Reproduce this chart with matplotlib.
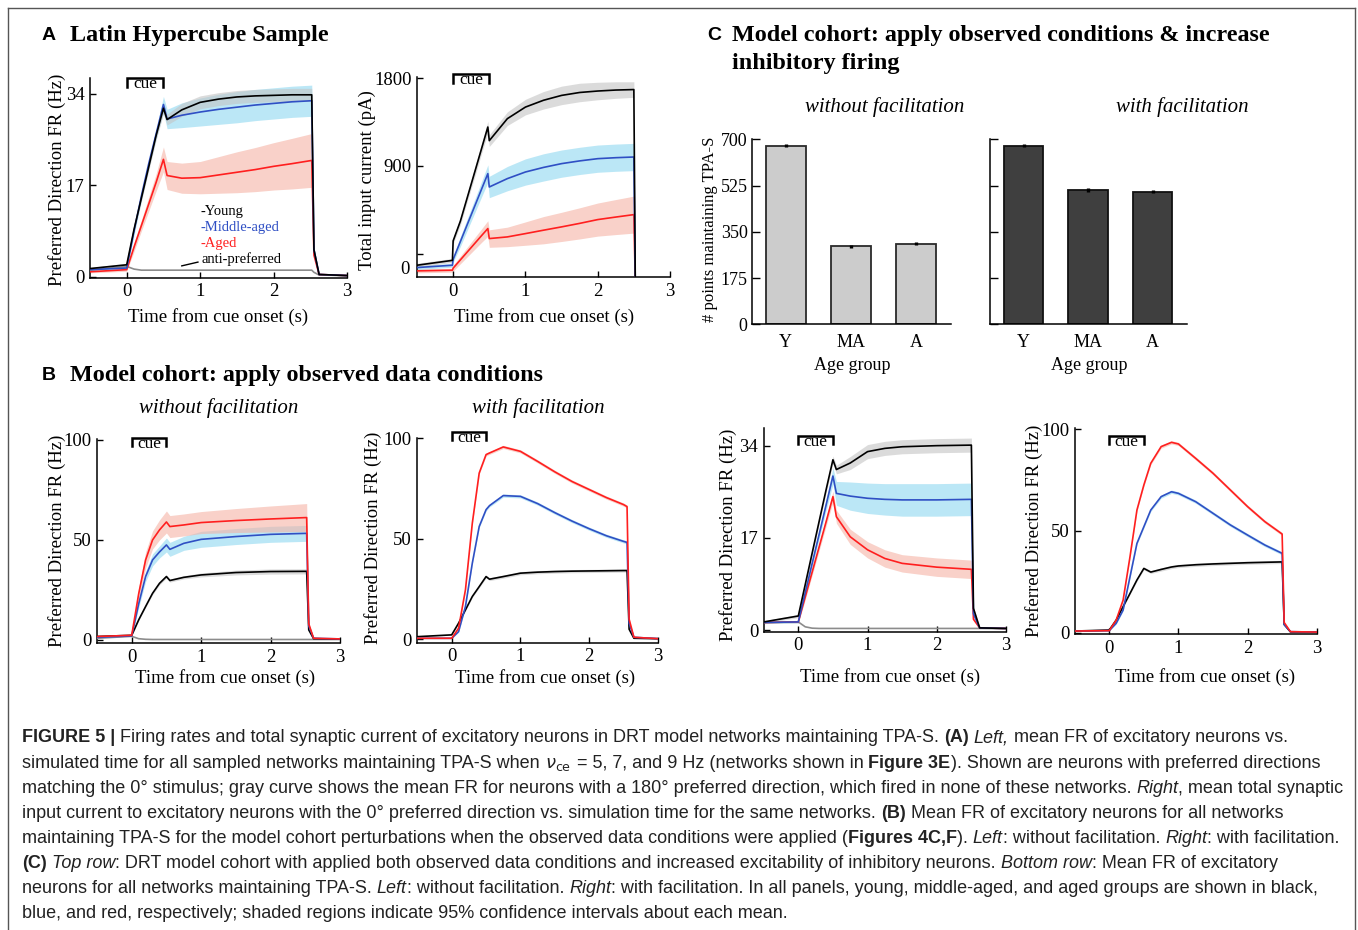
import numpy as np
import matplotlib
matplotlib.use('Agg')
import matplotlib.pyplot as plt
from matplotlib.lines import Line2D

W, H = 1358, 930
SERIF = ['Liberation Serif', 'DejaVu Serif']
SANS = ['Liberation Sans', 'DejaVu Sans']
CAP_FONT = ['Liberation Sans Narrow', 'Liberation Sans', 'DejaVu Sans']

# ------------------------------------------------------------------ data
CUE = [0.0, 0.5]
X_TICKS = [0, 1, 2, 3]
X_LIM = [-0.5, 3.0]

# Panel A left: preferred-direction firing rate (Hz)
tA = [-0.5, 0.0, 0.1, 0.2, 0.3, 0.4, 0.5, 0.55, 0.75, 1.0, 1.25, 1.5, 1.75, 2.0, 2.25, 2.52, 2.55, 2.62, 3.0]
A_young = [1.5, 2.2, 8.8, 14.6, 20.4, 26.2, 31.3, 29.2, 31.0, 32.4, 33.0, 33.4, 33.6, 33.7, 33.8, 33.8, 5.0, 0.4, 0.2]
A_young_ci = [0.2, 0.3, 0.5, 0.6, 0.7, 0.8, 1.0, 1.0, 1.2, 1.2, 1.2, 1.2, 1.2, 1.2, 1.2, 1.2, 0.4, 0.1, 0.1]
A_mid = [1.3, 1.6, 8.5, 15.0, 21.0, 26.5, 32.0, 29.3, 30.0, 30.6, 31.1, 31.5, 31.9, 32.2, 32.5, 32.7, 5.0, 0.4, 0.2]
A_mid_ci = [0.2, 0.3, 0.8, 0.8, 0.8, 0.9, 1.5, 1.8, 2.3, 2.6, 2.8, 2.9, 2.9, 2.9, 2.9, 2.9, 0.5, 0.1, 0.1]
A_aged = [0.9, 1.3, 5.5, 9.5, 13.5, 17.5, 21.8, 18.8, 18.3, 18.4, 18.9, 19.4, 19.9, 20.5, 21.0, 21.6, 4.0, 0.4, 0.2]
A_aged_ci = [0.2, 0.3, 0.8, 1.0, 1.3, 1.6, 2.3, 2.6, 2.8, 3.0, 3.4, 3.8, 4.1, 4.4, 4.7, 5.0, 0.5, 0.1, 0.1]
A_anti = [1.2, 1.9, 1.4, 1.2, 1.2, 1.2, 1.2, 1.2, 1.2, 1.2, 1.2, 1.2, 1.2, 1.2, 1.2, 1.2, 0.8, 0.3, 0.2]

# Panel A right: total input current (pA)
tAR = [-0.5, -0.01, 0.0, 0.1, 0.2, 0.3, 0.4, 0.48, 0.5, 0.75, 1.0, 1.25, 1.5, 1.75, 2.0, 2.25, 2.5, 2.52]
AR_young = [-120, -70, 130, 333, 587, 841, 1096, 1300, 1160, 1386, 1505, 1575, 1625, 1655, 1670, 1680, 1685, -300]
AR_young_ci = [20, 20, 30, 40, 40, 50, 50, 60, 60, 70, 80, 90, 95, 95, 90, 85, 80, 0]
AR_mid = [-144, -120, -60, 123, 307, 490, 674, 821, 684, 770, 838, 885, 924, 952, 975, 985, 992, -300]
AR_mid_ci = [20, 20, 30, 50, 60, 70, 80, 90, 110, 125, 135, 140, 140, 140, 140, 140, 140, 0]
AR_aged = [-178, -171, -150, -65, 20, 105, 190, 257, 154, 171, 205, 240, 274, 310, 349, 375, 400, -300]
AR_aged_ci = [20, 20, 30, 40, 50, 60, 70, 80, 90, 100, 120, 140, 150, 160, 170, 180, 190, 0]

# Panel B left: without facilitation (Hz)
tB = [-0.5, 0.0, 0.1, 0.2, 0.3, 0.4, 0.5, 0.55, 0.75, 1.0, 1.5, 2.0, 2.52, 2.55, 2.62, 3.0]
BL_young = [1.7, 2.3, 10.0, 16.7, 23.3, 28.3, 31.7, 29.7, 31.3, 32.5, 33.7, 34.2, 34.3, 5.0, 0.6, 0.4]
BL_young_ci = [0.2, 0.2, 0.5, 0.5, 0.7, 0.8, 0.8, 0.8, 0.8, 1.0, 1.2, 1.3, 1.3, 0.3, 0.1, 0.1]
BL_mid = [1.3, 2.0, 18.0, 31.7, 40.0, 44.0, 47.5, 45.3, 48.3, 50.3, 51.7, 52.8, 53.3, 7.0, 0.8, 0.5]
BL_mid_ci = [0.2, 0.3, 2.0, 2.5, 3.0, 3.0, 3.5, 3.5, 3.5, 4.0, 4.0, 4.0, 4.0, 1.0, 0.2, 0.1]
BL_aged = [1.7, 2.3, 23.0, 40.0, 50.0, 55.0, 59.0, 56.7, 57.5, 58.7, 59.7, 60.5, 61.2, 8.0, 0.8, 0.5]
BL_aged_ci = [0.3, 0.4, 3.0, 4.0, 4.5, 5.0, 5.5, 5.5, 5.5, 5.5, 6.0, 6.5, 7.0, 1.0, 0.2, 0.1]
BL_anti = [0.8, 1.8, 0.6, 0.3, 0.2, 0.2, 0.2, 0.2, 0.2, 0.2, 0.2, 0.2, 0.2, 0.2, 0.2, 0.2]

# Panel B right: with facilitation (Hz)
tBR = [-0.5, 0.0, 0.1, 0.2, 0.3, 0.4, 0.5, 0.55, 0.75, 1.0, 1.25, 1.5, 1.75, 2.0, 2.25, 2.5, 2.55, 2.58, 2.65, 3.0]
BR_young = [1.3, 2.2, 8.0, 14.6, 21.3, 26.2, 31.2, 29.9, 31.2, 32.9, 33.4, 33.7, 33.9, 34.0, 34.1, 34.2, 34.2, 5.0, 0.5, 0.3]
BR_mid = [0.5, 0.5, 3.8, 16.3, 37.9, 56.1, 64.5, 66.5, 71.5, 71.1, 67.5, 63.0, 58.8, 55.0, 51.5, 48.7, 48.2, 8.0, 1.0, 0.3]
BR_aged = [0.5, 0.5, 5.5, 24.6, 57.8, 82.7, 91.9, 92.7, 95.7, 93.5, 88.5, 83.3, 78.5, 74.5, 70.5, 67.0, 66.0, 10.0, 1.0, 0.3]
BR_ci = [0.2, 0.2, 0.3, 0.4, 0.5, 0.6, 0.7, 0.7, 0.8, 0.8, 0.8, 0.8, 0.8, 0.8, 0.8, 0.8, 0.8, 0.2, 0.1, 0.1]

# Panel C top: # points maintaining TPA-S
AGE_GROUPS = ['Y', 'MA', 'A']
C_without = [676, 295, 305]
C_without_err = [7, 6, 6]
C_with = [676, 508, 502]
C_with_err = [7, 6, 6]
C_YTICKS = [0, 175, 350, 525, 700]

# Panel C bottom left: without facilitation (Hz)
tCL = [-0.5, 0.0, 0.1, 0.2, 0.3, 0.4, 0.5, 0.55, 0.75, 1.0, 1.25, 1.5, 2.0, 2.5, 2.53, 2.62, 3.0]
CL_young = [1.5, 2.6, 8.4, 14.2, 20.0, 25.8, 31.4, 29.6, 30.8, 32.9, 33.5, 33.8, 34.0, 34.1, 4.0, 0.4, 0.3]
CL_young_ci = [0.2, 0.3, 0.4, 0.5, 0.5, 0.6, 0.7, 0.8, 1.2, 1.3, 1.3, 1.3, 1.3, 1.3, 0.3, 0.1, 0.1]
CL_mid = [1.4, 1.5, 6.9, 12.3, 17.6, 23.0, 28.4, 25.2, 24.7, 24.3, 24.1, 24.0, 24.0, 24.1, 3.0, 0.4, 0.3]
CL_mid_ci = [0.2, 0.2, 0.5, 0.7, 0.8, 1.0, 1.5, 2.2, 2.6, 2.8, 2.9, 3.0, 3.0, 3.0, 0.4, 0.1, 0.1]
CL_aged = [1.4, 1.5, 6.1, 10.7, 15.3, 19.9, 24.6, 20.9, 17.2, 14.8, 13.2, 12.3, 11.6, 11.2, 2.0, 0.4, 0.3]
CL_aged_ci = [0.2, 0.2, 0.5, 0.6, 0.7, 0.8, 1.0, 1.2, 1.4, 1.5, 1.6, 1.6, 1.7, 1.7, 0.3, 0.1, 0.1]
CL_anti = [1.4, 1.5, 0.6, 0.35, 0.3, 0.3, 0.3, 0.3, 0.3, 0.3, 0.3, 0.3, 0.3, 0.3, 0.3, 0.3, 0.3]

# Panel C bottom right: with facilitation (Hz)
tCR = [-0.5, 0.0, 0.1, 0.2, 0.3, 0.4, 0.5, 0.6, 0.75, 0.9, 1.0, 1.25, 1.5, 1.75, 2.0, 2.25, 2.5, 2.53, 2.62, 3.0]
CR_young = [0.8, 1.3, 6.2, 12.8, 19.3, 25.9, 31.6, 29.8, 31.1, 32.3, 32.8, 33.4, 33.8, 34.1, 34.4, 34.6, 34.8, 4.0, 0.4, 0.3]
CR_mid = [0.8, 1.0, 4.6, 11.1, 27.5, 43.9, 52.1, 60.3, 66.9, 69.3, 68.5, 64.4, 58.7, 53.0, 48.0, 43.1, 39.0, 4.0, 0.5, 0.3]
CR_aged = [0.8, 1.0, 6.2, 16.0, 37.4, 60.3, 72.6, 83.3, 91.5, 93.6, 92.8, 85.7, 78.4, 70.2, 62.0, 54.6, 48.5, 5.0, 0.5, 0.3]
CR_ci = [0.2, 0.2, 0.3, 0.4, 0.5, 0.6, 0.7, 0.7, 0.8, 0.8, 0.8, 0.8, 0.8, 0.8, 0.8, 0.8, 0.8, 0.2, 0.1, 0.1]

# ------------------------------------------------------------------ style
C_Y, C_MA, C_A, C_ANTI = '#000000', '#2f4fc4', '#ff1f1f', '#8c8c8c'
F_Y, F_MA, F_A = '#c4c4c4', '#8fd8f0', '#f5b3a5'
LAB_FS = 13.5

fig = plt.figure(figsize=(W / 100, H / 100), dpi=100)
renderer = fig.canvas.get_renderer()


def fx(px):
    return px / W


def fy(py):
    return 1 - py / H


def add_ax(x0, y0, x1, y1):
    return fig.add_axes([x0 / W, 1 - y1 / H, (x1 - x0) / W, (y1 - y0) / H])


def style_axes(ax, fs=LAB_FS):
    for s in ('top', 'right'):
        ax.spines[s].set_visible(False)
    for s in ('left', 'bottom'):
        ax.spines[s].set_linewidth(1.1)
    ax.tick_params(direction='in', length=4, width=1, labelsize=fs, pad=4)
    for lab in ax.get_xticklabels() + ax.get_yticklabels():
        lab.set_fontfamily(SERIF)


def line_panel(rect, t, series, ylim, yticks, yticklabels, bracket_top, tick_len=9):
    x0, y0, x1, y1 = rect
    ax = add_ax(x0, y0, x1, y1)
    t = np.asarray(t, float)
    for vals, ci, col, fcol in series:
        if ci is not None:
            v = np.asarray(vals, float)
            c = np.asarray(ci, float)
            ax.fill_between(t, v - c, v + c, color=fcol, alpha=0.6, lw=0, zorder=1)
    for vals, ci, col, fcol in series:
        ax.plot(t, vals, color=col, lw=1.2, zorder=3, solid_joinstyle='round')
    ax.set_xlim(X_LIM)
    ax.set_ylim(ylim)
    ax.set_xticks(X_TICKS)
    ax.set_yticks(yticks)
    ax.set_yticklabels(yticklabels)
    style_axes(ax)
    # cue bracket
    h = y1 - y0
    ftop = (y1 - bracket_top) / h
    fbot = (y1 - bracket_top - tick_len) / h
    tr = ax.get_xaxis_transform()
    ax.plot([CUE[0], CUE[0], CUE[1], CUE[1]], [fbot, ftop, ftop, fbot], color='black',
            lw=1.8, transform=tr, clip_on=False, zorder=5, solid_joinstyle='miter')
    fbase = (y1 - bracket_top - 10) / h
    ax.text(np.mean(CUE), fbase, 'cue', transform=tr, ha='center', va='baseline',
            fontsize=12.5, family=SERIF)
    return ax


def vlabel(x, y, s, fs=LAB_FS):
    fig.text(fx(x), fy(y), s, rotation=90, ha='center', va='center', fontsize=fs, family=SERIF)


def hlabel(x, y, s, fs=LAB_FS, style='normal'):
    fig.text(fx(x), fy(y), s, ha='center', va='center', fontsize=fs, family=SERIF, style=style)


# ------------------------------------------------------------------ Panel A
axA = line_panel((90, 77.6, 347, 277.7), tA,
                 [(A_anti, None, C_ANTI, None),
                  (A_aged, A_aged_ci, C_A, F_A),
                  (A_mid, A_mid_ci, C_MA, F_MA),
                  (A_young, A_young_ci, C_Y, F_Y)],
                 (-0.2, 37.0), [0, 17, 34], ['0', '17', '34'], 78)
for s, col, yv in (('-Young', C_Y, 12.2), ('-Middle-aged', C_MA, 9.2), ('-Aged', C_A, 6.25)):
    axA.text(1.0, yv, s, color=col, fontsize=10.5, family=SERIF, va='center', ha='left')
axA.text(1.02, 3.3, 'anti-preferred', color='black', fontsize=10.5, family=SERIF, va='center', ha='left')
axA.plot([0.75, 0.97], [2.0, 2.7], color='black', lw=1.0)
vlabel(57, 180, 'Preferred Direction FR (Hz)')
hlabel(218, 317, 'Time from cue onset (s)')

axAR = line_panel((417, 77.4, 670, 277.3), tAR,
                  [(AR_aged, AR_aged_ci, C_A, F_A),
                   (AR_mid, AR_mid_ci, C_MA, F_MA),
                   (AR_young, AR_young_ci, C_Y, F_Y)],
                  (-244, 1810), [0, 900, 1800], ['', '900', '1800'], 74)
fig.text(fx(410), fy(269), '0', ha='right', va='center', fontsize=LAB_FS, family=SERIF)
vlabel(367, 180, 'Total input current (pA)')
hlabel(544, 317, 'Time from cue onset (s)')

# ------------------------------------------------------------------ Panel B
line_panel((97, 439, 340, 643.3), tB,
           [(BL_anti, None, C_ANTI, None),
            (BL_young, BL_young_ci, C_Y, F_Y),
            (BL_mid, BL_mid_ci, C_MA, F_MA),
            (BL_aged, BL_aged_ci, C_A, F_A)],
           (-1.7, 100.5), [0, 50, 100], ['0', '50', '100'], 438, 8)
vlabel(57, 541, 'Preferred Direction FR (Hz)')
hlabel(225, 678, 'Time from cue onset (s)')
hlabel(219, 408, 'without facilitation', fs=15, style='italic')

line_panel((417.3, 438, 658, 642.7), tBR,
           [(BR_young, BR_ci, C_Y, F_Y),
            (BR_mid, BR_ci, C_MA, F_MA),
            (BR_aged, BR_ci, C_A, F_A)],
           (-1.7, 100.15), [0, 50, 100], ['0', '50', '100'], 432, 8)
vlabel(373, 538, 'Preferred Direction FR (Hz)')
hlabel(545, 678, 'Time from cue onset (s)')
hlabel(538, 408, 'with facilitation', fs=15, style='italic')

# ------------------------------------------------------------------ Panel C top (bars)
for (x0, x1), vals, errs, fc, ec, show in (((751.7, 950.7), C_without, C_without_err, '#cccccc', '#2a2a2a', True),
                                          ((990, 1187), C_with, C_with_err, '#3f3f3f', '#111111', False)):
    axb = add_ax(x0, 139.3, x1, 324.3)
    xs = np.arange(1, len(AGE_GROUPS) + 1)
    axb.bar(xs, vals, width=0.61, color=fc, edgecolor=ec, lw=1.3, zorder=2)
    axb.errorbar(xs, vals, yerr=errs, fmt='none', ecolor='black', elinewidth=2.4, capsize=0, zorder=3)
    axb.set_xlim(0.48, 3.53)
    axb.set_ylim(0, 700)
    axb.set_xticks(xs)
    axb.set_xticklabels(AGE_GROUPS)
    axb.set_yticks(C_YTICKS)
    style_axes(axb, 13)
    axb.tick_params(axis='x', length=0, pad=7)
    axb.tick_params(axis='y', length=6, pad=3)
    if not show:
        axb.set_yticklabels([])
    hlabel((x0 + x1) / 2 + 1, 366, 'Age group', fs=13)
vlabel(710, 229, '# points maintaining TPA-S', fs=12)
hlabel(885, 107, 'without facilitation', fs=15, style='italic')
hlabel(1182, 107, 'with facilitation', fs=15, style='italic')

# ------------------------------------------------------------------ Panel C bottom
line_panel((763.7, 428.3, 1006, 631.7), tCL,
           [(CL_anti, None, C_ANTI, None),
            (CL_aged, CL_aged_ci, C_A, F_A),
            (CL_mid, CL_mid_ci, C_MA, F_MA),
            (CL_young, CL_young_ci, C_Y, F_Y)],
           (-0.3, 37.2), [0, 17, 34], ['0', '17', '34'], 436, 8)
vlabel(728, 535, 'Preferred Direction FR (Hz)')
hlabel(890, 677, 'Time from cue onset (s)')

line_panel((1074.7, 428.3, 1316.7, 634), tCR,
           [(CR_young, CR_ci, C_Y, F_Y),
            (CR_mid, CR_ci, C_MA, F_MA),
            (CR_aged, CR_ci, C_A, F_A)],
           (-0.65, 100.5), [0, 50, 100], ['0', '50', '100'], 436, 8)
vlabel(1034, 531, 'Preferred Direction FR (Hz)')
hlabel(1205, 677, 'Time from cue onset (s)')

# ------------------------------------------------------------------ headings
def heading(letter, lx, tx, y, text, fs=17.4):
    fig.text(fx(lx), fy(y), letter, ha='left', va='center', fontsize=14, fontweight='bold', family=SANS)
    fig.text(fx(tx), fy(y), text, ha='left', va='center', fontsize=fs, fontweight='bold', family=SERIF)

heading('A', 42, 70, 36, 'Latin Hypercube Sample', 17.4)
heading('B', 42, 70, 375, 'Model cohort: apply observed data conditions', 17.4)
heading('C', 707, 732, 36, 'Model cohort: apply observed conditions & increase', 17.4)
fig.text(fx(732), fy(64), 'inhibitory firing', ha='left', va='center', fontsize=17.4,
         fontweight='bold', family=SERIF)

# ------------------------------------------------------------------ frame
for xs_, ys_ in (([8, 8], [930, 8]), ([8, 1355], [8, 8]), ([1355, 1355], [8, 930])):
    fig.add_artist(Line2D([fx(v) for v in xs_], [fy(v) for v in ys_], color='#555555', lw=1.0))

# ------------------------------------------------------------------ caption
NU = r'$\nu_{\rm ce}$'
CAPTION = [
    [('FIGURE 5 |', 'b'), (' Firing rates and total synaptic current of excitatory neurons in DRT model networks maintaining TPA-S. ', 'n'),
     ('(A)', 'b'), (' ', 'n'), ('Left,', 'i'), (' mean FR of excitatory neurons vs.', 'n')],
    [('simulated time for all sampled networks maintaining TPA-S when ', 'n'), (NU, 'n'),
     (' = 5, 7, and 9 Hz (networks shown in ', 'n'), ('Figure 3E', 'b'), ('). Shown are neurons with preferred directions', 'n')],
    [('matching the 0\u00b0 stimulus; gray curve shows the mean FR for neurons with a 180\u00b0 preferred direction, which fired in none of these networks. ', 'n'),
     ('Right', 'i'), (', mean total synaptic', 'n')],
    [('input current to excitatory neurons with the 0\u00b0 preferred direction vs. simulation time for the same networks. ', 'n'),
     ('(B)', 'b'), (' Mean FR of excitatory neurons for all networks', 'n')],
    [('maintaining TPA-S for the model cohort perturbations when the observed data conditions were applied (', 'n'),
     ('Figures 4C,F', 'b'), ('). ', 'n'), ('Left', 'i'), (': without facilitation. ', 'n'), ('Right', 'i'), (': with facilitation.', 'n')],
    [('(C)', 'b'), (' ', 'n'), ('Top row', 'i'), (': DRT model cohort with applied both observed data conditions and increased excitability of inhibitory neurons. ', 'n'),
     ('Bottom row', 'i'), (': Mean FR of excitatory', 'n')],
    [('neurons for all networks maintaining TPA-S. ', 'n'), ('Left', 'i'), (': without facilitation. ', 'n'), ('Right', 'i'),
     (': with facilitation. In all panels, young, middle-aged, and aged groups are shown in black,', 'n')],
    [('blue, and red, respectively; shaded regions indicate 95% confidence intervals about each mean.', 'n')],
]


def cap_kw(st, size):
    return dict(fontsize=size, family=CAP_FONT, color='#222222',
                fontweight='bold' if st == 'b' else 'normal',
                fontstyle='italic' if st == 'i' else 'normal')


def text_w(s, **kw):
    t = fig.text(0, 0, s, **kw)
    w = t.get_window_extent(renderer).width
    t.remove()
    return w


def seg_w(s, st, size):
    kw = cap_kw(st, size)
    return text_w('x' + s + 'x', **kw) - text_w('xx', **kw)


base = 10.0
w5 = sum(seg_w(s, st, base) for s, st in CAPTION[4])
cap_size = base * (1340 - 22) / w5
for i, segs in enumerate(CAPTION):
    x = 22.0
    yb = 742.5 + 25.1 * i
    for s, st in segs:
        fig.text(fx(x), fy(yb), s, ha='left', va='baseline', **cap_kw(st, cap_size))
        x += seg_w(s, st, cap_size)

fig.savefig('out.png', dpi=100)
